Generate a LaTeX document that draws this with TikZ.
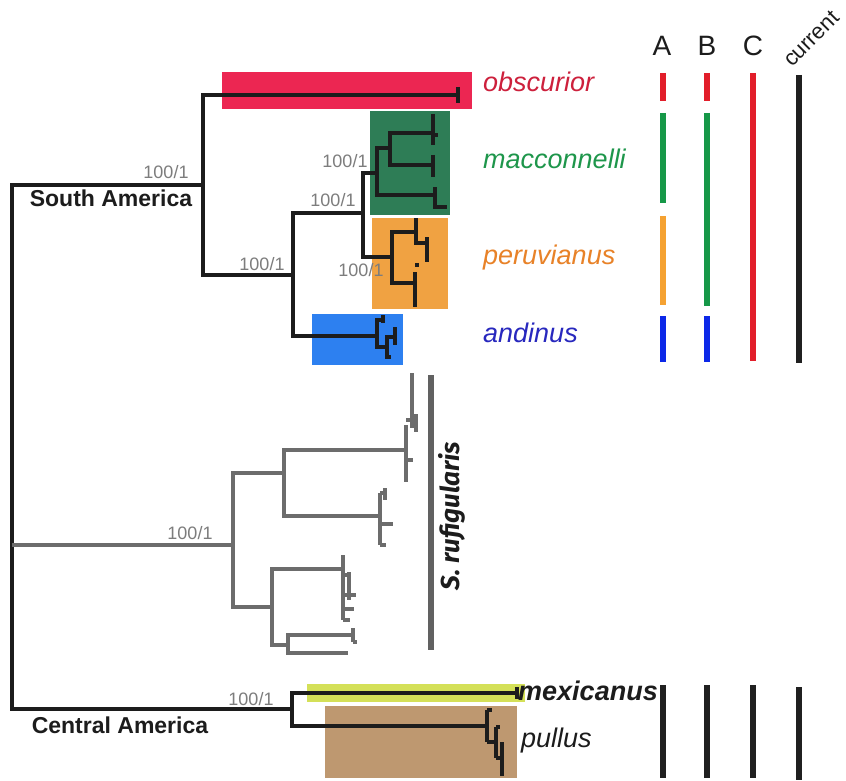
\documentclass[tikz,border=0pt]{standalone}
\usepackage{fontspec}
\setmainfont{Liberation Sans}
\newfontfamily\rufifont{Fira Sans}
\definecolor{treeblack}{RGB}{28,28,28}
\definecolor{treegray}{RGB}{108,108,108}
\definecolor{supgray}{RGB}{125,125,125}
\definecolor{boxred}{RGB}{236,38,82}
\definecolor{boxgreen}{RGB}{46,125,86}
\definecolor{boxorange}{RGB}{240,162,66}
\definecolor{boxblue}{RGB}{45,128,240}
\definecolor{boxyellow}{RGB}{212,224,88}
\definecolor{boxbrown}{RGB}{190,152,112}
\definecolor{labred}{RGB}{205,32,60}
\definecolor{labgreen}{RGB}{30,150,75}
\definecolor{laborange}{RGB}{232,130,40}
\definecolor{labblue}{RGB}{40,40,190}
\definecolor{legred}{RGB}{226,30,42}
\definecolor{leggreen}{RGB}{22,152,72}
\definecolor{legorange}{RGB}{245,162,50}
\definecolor{legblue}{RGB}{12,40,232}
\definecolor{legblack}{RGB}{32,32,32}
\tikzset{
  tree/.style={draw=treeblack, line width=3.4pt},
  gtree/.style={draw=treegray, line width=3.2pt},
  species/.style={anchor=base west, inner sep=0pt, font=\fontsize{27}{27}\selectfont\itshape},
  region/.style={inner sep=0pt, font=\fontsize{23}{23}\selectfont\bfseries, text=treeblack},
  support/.style={inner sep=0pt, font=\fontsize{18}{18}\selectfont, text=supgray},
  legbar/.style={line width=6pt},
  leghead/.style={anchor=base, inner sep=0pt, font=\fontsize{28}{28}\selectfont, text=treeblack}
}
\begin{document}
\begin{tikzpicture}[x=1pt,y=-1pt]
\useasboundingbox[fill=white] (0,0) rectangle (846,781);
% clade boxes
\fill[boxred] (222,72) rectangle (472,109);
\fill[boxgreen] (370,111) rectangle (450,215);
\fill[boxorange] (372,218) rectangle (448,309);
\fill[boxblue] (312,314) rectangle (403,365);
\fill[boxyellow] (307,684) rectangle (525,702);
\fill[boxbrown] (325,706) rectangle (517,778);
% coordinates of tree nodes
\coordinate (R) at (12,545);
\coordinate (SA) at (203,185);
\coordinate (obs) at (458,95);
\coordinate (n1) at (293,275);
\coordinate (n2) at (363,213);
\coordinate (mac) at (377,173);
\coordinate (mac1) at (390,148);
\coordinate (macA) at (433,133);
\coordinate (macB) at (433,165);
\coordinate (macC) at (435,195);
\coordinate (per) at (392,257);
\coordinate (per1) at (416,232);
\coordinate (per1b) at (427,243);
\coordinate (per2) at (415,283);
\coordinate (and) at (377,336);
\coordinate (andA) at (383,320);
\coordinate (and1) at (387,347);
\coordinate (and1a) at (395,337);
\coordinate (and1b) at (391,357);
\coordinate (rufi) at (233,545);
\coordinate (g1) at (284,473);
\coordinate (g11) at (406,450);
\coordinate (g12) at (380,516);
\coordinate (g2) at (272,607);
\coordinate (g21) at (343,569);
\coordinate (g22) at (288,645);
\coordinate (g22a) at (353,635);
\coordinate (g22b) at (348,653);
\coordinate (CA) at (292,709);
\coordinate (mex) at (517,693);
\coordinate (pul) at (487,726);
% black tree
\draw[tree] (R) |- (SA);
\draw[tree] (R) |- (CA);
\draw[tree] (SA) |- (obs);
\draw[tree] (SA) |- (n1);
\draw[tree] (n1) |- (n2);
\draw[tree] (n1) |- (and);
\draw[tree] (n2) |- (mac);
\draw[tree] (n2) |- (per);
\draw[tree] (mac) |- (mac1);
\draw[tree] (mac) |- (macC);
\draw[tree] (mac1) |- (macA);
\draw[tree] (mac1) |- (macB);
\draw[tree] (per) |- (per1);
\draw[tree] (per) |- (per2);
\draw[tree] (per1) |- (per1b);
\draw[tree] (and) |- (andA);
\draw[tree] (and) |- (and1);
\draw[tree] (and1) |- (and1a);
\draw[tree] (and1) |- (and1b);
\draw[tree] (CA) |- (mex);
\draw[tree] (CA) |- (pul);
% tip details
\draw[tree] (obs) ++(0,-8) -- ++(0,16);
\draw[tree] (433,114) -- (433,145) (433,135) -- (438,135);
\draw[tree] (macB) ++(0,-10) -- ++(0,22);
\draw[tree] (macC) ++(0,-8) -- ++(0,20) -- ++(12,0);
\draw[tree] (per1) ++(0,-14) -- ++(0,25);
\draw[tree] (per1b) ++(0,-6) -- ++(0,25);
\draw[tree] (per2) ++(0,-11) -- ++(0,35);
\draw[tree] (per2) ++(0,-18) -- ++(4,0);
\draw[tree] (andA) ++(0,-5) -- ++(0,8);
\draw[tree] (and1a) ++(0,-10) -- ++(0,18);
\draw[tree] (and1) ++(0,-10) -- ++(0,20);
\draw[tree] (mex) ++(0,-6) -- ++(0,12);
\draw[tree] (pul) ++(0,-16) -- ++(0,32) (pul) ++(0,-16) -- ++(5,0);
\draw[tree] (487,742) -- (496,742) (496,727) -- (496,758) (496,727) -- (500,727);
\draw[tree] (496,758) -- (502,758) (502,742) -- (502,776);
% gray clade
\draw[gtree] (R) |- (rufi);
\draw[gtree] (rufi) |- (g1);
\draw[gtree] (rufi) |- (g2);
\draw[gtree] (g1) |- (g11);
\draw[gtree] (g1) |- (g12);
\draw[gtree] (g2) |- (g21);
\draw[gtree] (g2) |- (g22);
\draw[gtree] (g22) |- (g22a);
\draw[gtree] (g22) |- (g22b);
\draw[gtree] (g11) ++(0,-25) -- ++(0,57);
\draw[gtree] (412,373) -- (412,428) (406,420) -- (416,420) (416,414) -- (416,432) (406,460) -- (413,460);
\draw[gtree] (g12) ++(0,-23) -- ++(0,52);
\draw[gtree] (380,493) -- (385,493) (385,488) -- (385,500) (380,524) -- (393,524) (380,545) -- (386,545);
\draw[gtree] (g21) ++(0,-14) -- ++(0,65);
\draw[gtree] (343,575) -- (349,575) (349,572) -- (349,600) (343,595) -- (356,595) (343,609) -- (354,609) (343,620) -- (350,620);
\draw[gtree] (g22a) ++(0,-7) -- ++(0,14) (g22a) ++(0,7) -- ++(4,0);
% S. rufigularis bar
\draw[draw=treegray!90!black, line width=6pt] (431,375) -- (431,650);
% labels
\node[species, text=labred] (lobs) at (483,92) {obscurior};
\node[species, text=labgreen] (lmac) at (483,168) {macconnelli};
\node[species, text=laborange] (lper) at (483,264) {peruvianus};
\node[species, text=labblue] (land) at (483,342) {andinus};
\node[species, text=treeblack, font=\fontsize{27}{27}\selectfont\bfseries\itshape] (lmex) at (518,700) {mexicanus};
\node[species, text=treeblack] (lpul) at (521,747) {pullus};
\node[inner sep=0pt, rotate=90, text=treeblack, font=\rufifont\fontsize{26}{26}\selectfont\bfseries\itshape] (lrufi) at (452,516) {S. rufigularis};
\node[region] (lSA) at (111,198) {South America};
\node[region] (lCA) at (120,725) {Central America};
\node[support] (s1) at (166,172) {100/1};
\node[support] (s2) at (345,161) {100/1};
\node[support] (s3) at (333,200) {100/1};
\node[support] (s4) at (262,264) {100/1};
\node[support] (s5) at (361,270) {100/1};
\node[support] (s6) at (190,533) {100/1};
\node[support] (s7) at (251,699) {100/1};
% legend
\node[leghead] (hA) at (662,56) {A};
\node[leghead] (hB) at (707,56) {B};
\node[leghead] (hC) at (753,56) {C};
\node[anchor=base west, inner sep=0pt, rotate=45, text=treeblack, font=\fontsize{22}{22}\selectfont] (hcur) at (792,68) {current};
\draw[legbar, legred] (663,73) -- (663,101);
\draw[legbar, leggreen] (663,113) -- (663,203);
\draw[legbar, legorange] (663,216) -- (663,305);
\draw[legbar, legblue] (663,316) -- (663,362);
\draw[legbar, legred] (707,73) -- (707,101);
\draw[legbar, leggreen] (707,113) -- (707,306);
\draw[legbar, legblue] (707,316) -- (707,362);
\draw[legbar, legred] (753,73) -- (753,361);
\draw[legbar, legblack] (799,75) -- (799,363);
\draw[legbar, legblack] (663,685) -- (663,778);
\draw[legbar, legblack] (707,685) -- (707,778);
\draw[legbar, legblack] (753,685) -- (753,778);
\draw[legbar, legblack] (799,687) -- (799,780);
\end{tikzpicture}
\end{document}
